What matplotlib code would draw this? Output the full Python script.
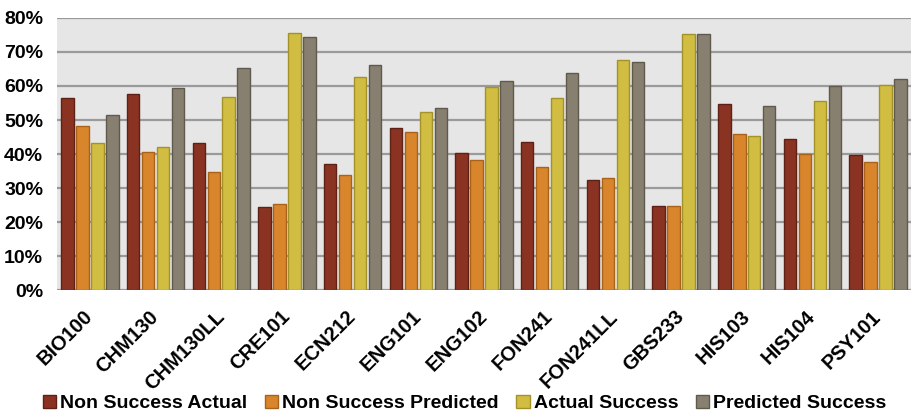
import numpy as np
import matplotlib.pyplot as plt
from matplotlib.ticker import FuncFormatter

# Course success rates (percent of students)
courses = ['BIO100', 'CHM130', 'CHM130LL', 'CRE101', 'ECN212', 'ENG101', 'ENG102',
           'FON241', 'FON241LL', 'GBS233', 'HIS103', 'HIS104', 'PSY101']
non_success_actual = [56.6, 57.7, 43.1, 24.3, 37.2, 47.7, 40.3, 43.5, 32.4, 24.7, 54.6, 44.3, 39.7]
non_success_predicted = [48.3, 40.6, 34.8, 25.4, 33.8, 46.4, 38.3, 36.2, 32.9, 24.7, 45.8, 39.9, 37.6]
actual_success = [43.3, 42.2, 56.9, 75.7, 62.7, 52.3, 59.7, 56.5, 67.6, 75.2, 45.3, 55.7, 60.2]
predicted_success = [51.6, 59.3, 65.2, 74.5, 66.1, 53.5, 61.6, 63.8, 67.1, 75.2, 54.1, 60.1, 62.2]

series_names = ['Non Success Actual', 'Non Success Predicted', 'Actual Success', 'Predicted Success']
fills = ['#8a3322', '#d8852c', '#d1bd42', '#878070']
edges = ['#5e2115', '#a9621a', '#a3922a', '#5f5a4d']

plt.rcParams['font.family'] = ['Liberation Sans', 'DejaVu Sans']

fig = plt.figure(figsize=(9.11, 4.15), dpi=100)
ax = fig.add_axes([57 / 911, 1 - 290 / 415, 1 - 57 / 911, 272 / 415])
ax.set_facecolor('#e6e6e6')

x = np.arange(len(courses))
pitch = 0.228
width = 0.19
data = [non_success_actual, non_success_predicted, actual_success, predicted_success]
for i, vals in enumerate(data):
    ax.bar(x + (i - 1.5) * pitch, np.array(vals) / 100, width, color=fills[i],
           edgecolor=edges[i], linewidth=1, label=series_names[i], zorder=3)

ax.set_xlim(-0.5, len(courses) - 0.5)
ax.set_ylim(0, 0.8)
ax.set_yticks(np.arange(0, 0.81, 0.1))
ax.yaxis.set_major_formatter(FuncFormatter(lambda v, p: f'{v * 100:.0f}%'))
ax.grid(axis='y', color='#9a9a9a', linewidth=1.6, zorder=1)
for s in ax.spines.values():
    s.set_visible(False)
ax.tick_params(axis='both', length=0)
ax.tick_params(axis='y', labelsize=14, pad=10)
for t in ax.get_yticklabels():
    t.set_fontweight('bold')

ax.set_xticks(x)
ax.set_xticklabels(courses, rotation=45, ha='right', va='center', rotation_mode='anchor',
                   fontsize=14.5, fontweight='bold')
ax.tick_params(axis='x', pad=17)

fig.legend(loc='lower center', bbox_to_anchor=(0.51, -0.022), ncol=4, frameon=False,
           prop={'weight': 'bold', 'size': 14}, handlelength=0.7, handleheight=0.7,
           handletextpad=0.2, columnspacing=0.9, borderaxespad=0.2)

fig.savefig('out.png', dpi=100)
